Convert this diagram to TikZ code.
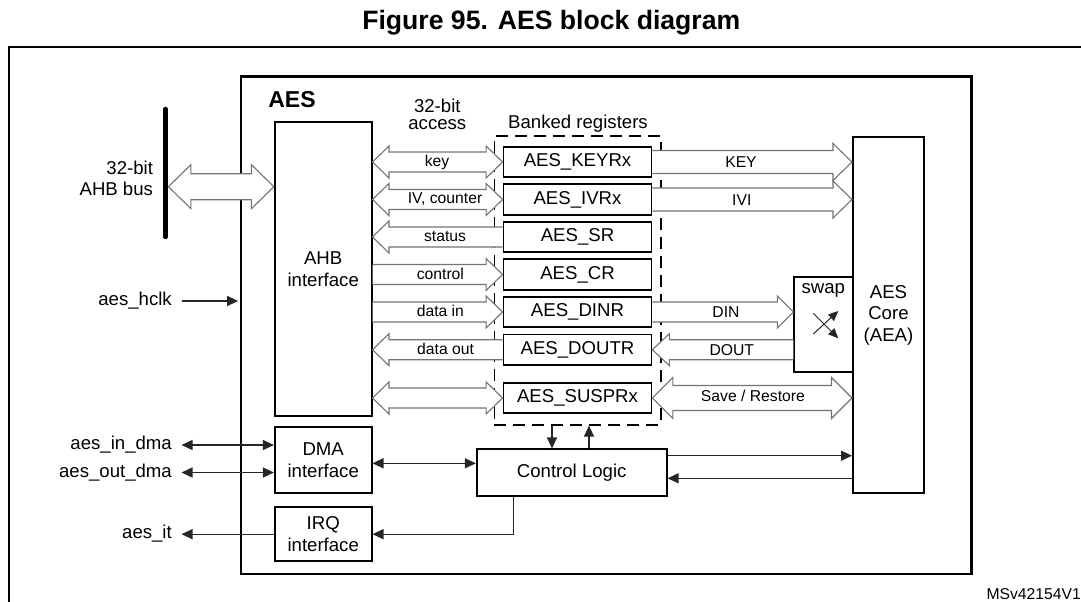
\documentclass[tikz,border=0pt]{standalone}
\usepackage{fontspec}
\setmainfont{Liberation Sans}
\usetikzlibrary{arrows.meta,calc}
\newcommand\fbig{\fontsize{18.6pt}{21.5pt}\selectfont}
\newcommand\fsmall{\fontsize{15.7pt}{18pt}\selectfont}
% hollow arrow pointing right: #1 tail, #2 tip, #3 shaft half width, #4 head half height, #5 head length
\newcommand\HR[5]{\filldraw[harrow] let \p1=(#1), \p2=(#2) in
 (\x1,{\y2+#3pt}) -- ({\x2-#5pt},{\y2+#3pt}) -- ({\x2-#5pt},{\y2+#4pt}) -- (\x2,\y2)
 -- ({\x2-#5pt},{\y2-#4pt}) -- ({\x2-#5pt},{\y2-#3pt}) -- (\x1,{\y2-#3pt});}
% hollow arrow pointing left: #1 tail (right), #2 tip (left)
\newcommand\HL[5]{\filldraw[harrow] let \p1=(#1), \p2=(#2) in
 (\x1,{\y2+#3pt}) -- ({\x2+#5pt},{\y2+#3pt}) -- ({\x2+#5pt},{\y2+#4pt}) -- (\x2,\y2)
 -- ({\x2+#5pt},{\y2-#4pt}) -- ({\x2+#5pt},{\y2-#3pt}) -- (\x1,{\y2-#3pt});}
% hollow double arrow: #1 left tip, #2 right tip
\newcommand\HD[5]{\filldraw[harrow] let \p1=(#1), \p2=(#2) in
 (\x1,\y2) -- ({\x1+#5pt},{\y2+#4pt}) -- ({\x1+#5pt},{\y2+#3pt}) -- ({\x2-#5pt},{\y2+#3pt})
 -- ({\x2-#5pt},{\y2+#4pt}) -- (\x2,\y2) -- ({\x2-#5pt},{\y2-#4pt}) -- ({\x2-#5pt},{\y2-#3pt})
 -- ({\x1+#5pt},{\y2-#3pt}) -- ({\x1+#5pt},{\y2-#4pt}) -- cycle;}
\tikzset{
 box/.style={draw=black, line width=1.8pt, fill=white, inner sep=0pt, align=center, font=\fbig},
 regbox/.style={box, minimum width=148pt, minimum height=30.6pt, text height=13.5pt, text depth=4pt},
 lbl/.style={inner sep=0pt, font=\fbig, text height=13.5pt, text depth=4pt},
 sml/.style={inner sep=0pt, font=\fsmall, text height=11.5pt, text depth=3.4pt},
 sig/.style={lbl, inner xsep=9.5pt},
 conn/.style={draw=black!85, line width=1.3pt, >={Triangle[length=11pt,width=10pt]}},
 swp/.style={draw=black!85, line width=1pt, >={Triangle[length=10pt,width=8.5pt]}},
 harrow/.style={draw=black!55, line width=1.1pt, fill=white, line join=miter},
 dashbox/.style={draw=black, line width=1.6pt, dash pattern=on 12pt off 7pt, inner sep=0pt},
}
\begin{document}
\begin{tikzpicture}[x=1pt,y=-1pt]
\useasboundingbox (0,0) rectangle (1081,602);
\node[font=\bfseries\fontsize{26.6pt}{30pt}\selectfont, inner sep=0pt] (title) at (551.3,23) {Figure 95. AES block diagram};
\draw[line width=1.8pt] (9.3,602) -- (9.3,47.3) -- (1081,47.3);
% AES frame
\node[draw, line width=2.2pt, minimum width=730.8pt, minimum height=497.5pt, inner sep=0pt] (aes) at (606.1,325.25) {};
\node[font=\bfseries\fontsize{23pt}{26pt}\selectfont, inner sep=0pt] (aeslbl) at (292,100) {AES};
% banked registers group
\node[dashbox, minimum width=166.5pt, minimum height=289.1pt] (bank) at (577.55,280.25) {};
\node[lbl] (banklbl) at (578,123.3) {Banked registers};
\node[regbox] (keyr) at (577.5,162) {AES\_KEYRx};
\node[regbox] (ivr) at (577.5,199.5) {AES\_IVRx};
\node[regbox] (sr) at (577.5,237) {AES\_SR};
\node[regbox] (cr) at (577.5,274.5) {AES\_CR};
\node[regbox] (dinr) at (577.5,312) {AES\_DINR};
\node[regbox] (doutr) at (577.5,349.7) {AES\_DOUTR};
\node[regbox] (suspr) at (577.5,398) {AES\_SUSPRx};
% blocks
\node[box, minimum width=96.8pt, minimum height=294pt] (ahb) at (323.2,269) {AHB\\interface};
\node[box, minimum width=96.8pt, minimum height=65.4pt] (dma) at (323.2,460) {DMA\\interface};
\node[box, minimum width=96.8pt, minimum height=53.7pt] (irq) at (323.2,534.2) {IRQ\\interface};
\node[box, minimum width=190pt, minimum height=46.4pt] (ctrl) at (571.7,472.5) {Control Logic};
\node[box, minimum width=71.1pt, minimum height=355.4pt] (core) at (888.45,315) {AES\\Core\\(AEA)};
\node[box, minimum width=58.6pt, minimum height=94.4pt] (swap) at (823.6,324.5) {};
\node[lbl] (swaplbl) at (823.3,289) {swap};
\draw[swp,->] ($(swap.center)+(-10.3,9.5)$) -- ($(swap.center)+(14.7,-13.5)$);
\draw[swp,->] ($(swap.center)+(-10.3,-11.2)$) -- ($(swap.center)+(14.7,13.8)$);
% AHB bus
\coordinate (busT) at (165.6,109.3);
\coordinate (busB) at (165.6,236.7);
\draw[line width=5pt, line cap=round] (busT) -- (busB);
\coordinate (busR) at (168.4,186.7);
\node[lbl, align=right, anchor=east, text height=, text depth=] (buslbl) at (153.2,178.3) {32-bit\\AHB bus};
\HD{busR}{ahb.west |- busR}{13}{22}{22.5}
% 32-bit access side
\node[inner sep=0pt, font=\fontsize{18.6pt}{17.6pt}\selectfont, align=center] (acc) at (437.3,114.5) {32-bit\\access};
\HD{ahb.east |- keyr.west}{keyr.west}{10}{16}{16.5}
\HD{ahb.east |- ivr.west}{ivr.west}{10}{16}{16.5}
\HL{sr.west}{ahb.east |- sr.west}{10}{16}{16.5}
\HR{ahb.east |- cr.west}{cr.west}{10}{16}{16.5}
\HR{ahb.east |- dinr.west}{dinr.west}{10}{16}{16.5}
\HL{doutr.west}{ahb.east |- doutr.west}{10}{16}{16.5}
\HD{ahb.east |- suspr.west}{suspr.west}{10}{16}{16.5}
\node[sml] (lkey) at (437,162.3) {key};
\node[sml] (liv) at (445,199.3) {IV, counter};
\node[sml] (lst) at (445,237) {status};
\node[sml] (lcr) at (440.4,275) {control};
\node[sml] (ldin) at (440.4,312) {data in};
\node[sml] (ldout) at (445.6,350) {data out};
% core side
\HR{keyr.east}{core.west |- keyr.east}{11.5}{18.5}{19}
\HR{ivr.east}{core.west |- ivr.east}{11.5}{18.5}{19}
\HR{dinr.east}{swap.west |- dinr.east}{10}{16}{16}
\HL{swap.west |- doutr.east}{doutr.east}{10}{16}{17}
\HD{suspr.east}{core.west |- suspr.east}{12.5}{20.5}{20.5}
\node[sml] (lKEY) at (741,163.5) {KEY};
\node[sml] (lIVI) at (741.8,201) {IVI};
\node[sml] (lDIN) at (726,313.5) {DIN};
\node[sml] (lDOUT) at (731.8,351.5) {DOUT};
\node[sml] (lsr) at (752.9,397.3) {Save / Restore};
% external signals
\node[sig, anchor=east] (hclk) at (181.5,301) {aes\_hclk};
\node[sig, anchor=east] (indma) at (181.5,445) {aes\_in\_dma};
\node[sig, anchor=east] (outdma) at (181.5,472.5) {aes\_out\_dma};
\node[sig, anchor=east] (it) at (181.5,534.2) {aes\_it};
\draw[conn,->,shorten >=1.5pt] (hclk.east) -- (aes.west |- hclk.east);
\draw[conn,<->] (indma.east) -- (dma.west |- indma.east);
\draw[conn,<->] (outdma.east) -- (dma.west |- outdma.east);
\draw[conn,->] (irq.west |- it.east) -- (it.east);
% control connections
\coordinate (dm) at ($(dma.east)+(0,3.3)$);
\draw[conn,<->] (dm) -- (dm -| ctrl.west);
\coordinate (dn) at ($(ctrl.north)+(-19.7,0)$);
\coordinate (up) at ($(ctrl.north)+(17.3,0)$);
\draw[conn,->] (dn |- bank.south) -- (dn);
\draw[conn,->] (up) -- (up |- bank.south);
\coordinate (ci) at ($(ctrl.south)+(-58.5,0)$);
\draw[conn,->] (ci) |- (irq.east);
\coordinate (c1) at ($(ctrl.east)+(0,-16.8)$);
\coordinate (c2) at ($(ctrl.east)+(0,5.8)$);
\draw[conn,->] (c1) -- (c1 -| core.west);
\draw[conn,->] (c2 -| core.west) -- (c2);
\node[sml, anchor=east] (msv) at (1081,595) {MSv42154V1};
\end{tikzpicture}
\end{document}
